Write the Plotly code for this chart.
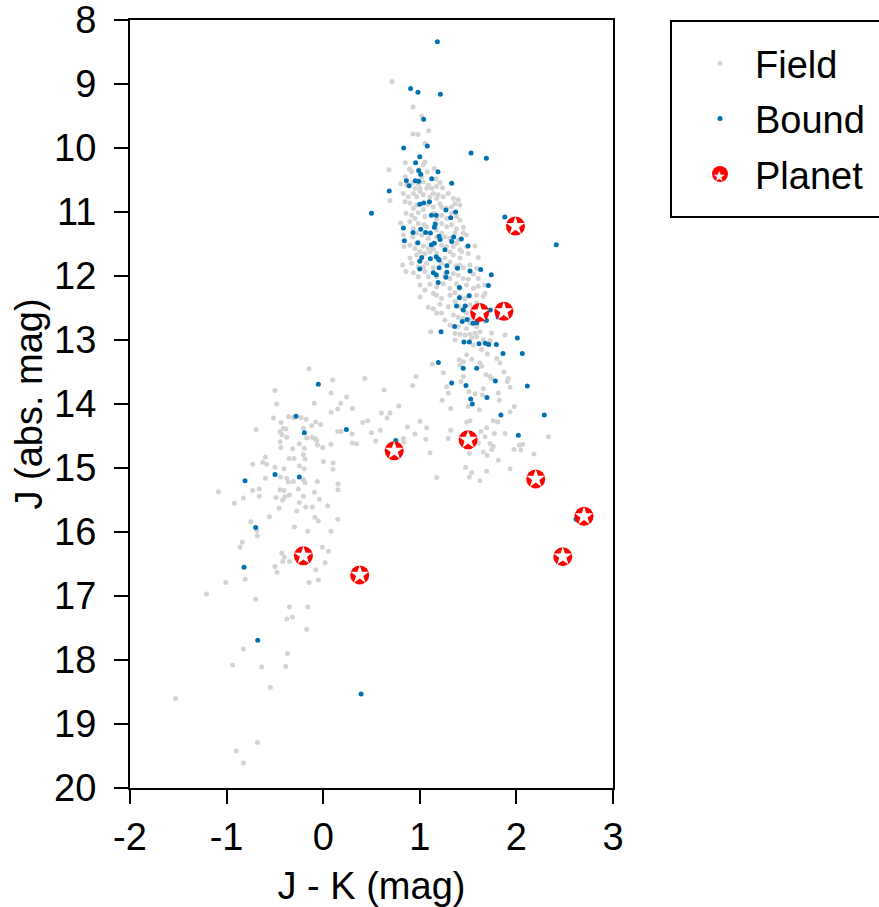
import plotly.graph_objects as go

# ---------------- data ----------------
FIELD_JK = [
    0.712, 0.93, 1.019, 0.93, 0.981, 1.092, 1.054, 0.85, 0.681, 0.892, 0.916, 1.054, 1.037, 1.15, 1.078, 1.019, 0.85, 1.168, 0.802,
    0.926, 1.036, 1.122, 1.174, 1.236, 0.95, 1.002, 1.071,
    0.691, 0.829, 0.933, 0.967, 1.036, 1.105, 1.191, 1.174, 1.347, 1.398,
    0.846, 0.967, 0.933, 1.14, 1.209, 1.226, 1.278, 1.364,
    0.857, 0.915, 0.984, 1.053, 1.226, 1.278, 1.381, 1.416,
    0.801, 0.898, 0.984, 1.043, 1.071, 1.226, 1.278, 1.329, 1.45,
    0.829, 0.926, 1.019, 1.226, 1.26, 1.364, 1.398, 1.484,
    0.836, 0.898, 0.95, 1.036, 1.088, 1.226, 1.347, 1.381, 1.416, 1.571,
    0.898, 0.967, 1.053, 1.105, 1.174, 1.312, 1.347, 1.416, 1.433, 1.605,
    0.822, 0.915, 0.933, 1.036, 1.071, 1.226, 1.312, 1.374, 1.45, 1.519,
    0.857, 1.053, 1.088, 1.26, 1.312, 1.347, 1.45, 1.554, 1.605,
    1.053, 1.105, 1.174, 1.243, 1.312, 1.381, 1.484, 1.605, 1.674,
    1.002, 1.14, 1.226, 1.312, 1.364, 1.416, 1.519, 1.657, 1.674,
    1.088, 1.209, 1.295, 1.364, 1.433, 1.519, 1.588, 1.657,
    1.174, 1.26, 1.347, 1.398, 1.484, 1.536, 1.623, 1.674,
    1.312, 1.398, 1.484, 1.519, 1.588, 1.674,
    0.864, 0.984, 1.088, 1.209, 0.881, 1.002, 1.14, 1.243, 1.295, 0.898, 1.036, 1.088, 1.329, 1.416,
    0.95, 1.14, 1.329, 1.174, 0.933, 1.157, 1.381, 1.174, 0.967, 1.088, 1.312, 1.45, 1.174,
    0.967, 1.14, 1.278, 1.484, 1.002, 1.26, 1.502, 0.984, 1.14, 1.416, 1.588, 0.984, 1.174, 1.398, 1.502,
    1.002, 1.416, 1.554, 1.174, 1.467, 1.588, 1.14, 1.398, 1.571, 1.226, 1.45, 1.588,
    1.112, 1.364, 1.416, 1.468, 1.52, 1.571, 1.623, 1.744, 1.364, 1.537, 1.589, 1.657, 1.727, 1.882,
    1.554, 1.64, 1.699, 1.796, 1.83, 1.485, 1.409, 1.451, 1.416, 1.537, 1.623, 1.64, 1.13, 1.244,
    0.961, 0.926, 1.451, 1.426, 1.685, 1.727, 1.744, 1.871, 1.916, 1.906, 1.934, 1.278, 1.295,
    1.509, 1.571, 1.657, 1.65, 1.813, 1.823, 1.23, 1.32, 1.616, 1.502, 1.761, 1.806, 1.934, 1.978,
    1.002, 1.071, 0.871, 0.83, 0.836, 0.95, 1.061, 1.32, 1.295, 1.485, 1.52, 1.633, 1.692, 1.771,
    1.882, 1.675, 1.606, 1.727, 1.761, 1.744, 1.699, 1.658, 1.52, 1.513, 1.813, 1.934, 1.975, 2.03,
    2.065, 2.182, 2.331, 1.106, 1.475, 1.537, 1.513, 1.692, 1.175, 1.623, 2.045,
    -0.147, 0.098, 0.43, -0.499, 0.081, -0.481, -0.093, 0.243, 0.181, 0.15, 0.302, 0.081, 0.63,
    0.602, 0.692, 0.661, 0.409, 0.461, 0.782, -0.516, -0.36, -0.309, -0.229, -0.177, -0.437, -0.412,
    -0.447, -0.695, -0.385, -0.205, -0.119, -0.077, -0.026, -0.429, -0.377, -0.171, -0.119, -0.085,
    -0.067, 0.15, 0.185, 0.299, 0.302, 0.346, 0.5, 0.545, 0.592, 0.081, -0.058, -0.005, -0.447,
    -0.44, -0.316, -0.247, -0.195, -0.353, -0.302, -0.205, -0.188, -0.599, -0.73, -0.626, -0.585,
    -0.499, -0.405, -0.247, -0.198, 0.002, 0.102, 0.102, -0.599, -0.44, -0.377, -0.36, -0.309,
    -0.205, -0.188, -0.061, 0.153, 0.153, -1.085, -0.92, -0.826, -0.73, -0.661, -0.661, -0.488,
    -0.447, -0.405, -0.35, -0.395, -0.42, -0.257, -0.205, -0.247, -0.091, -0.04, 0.047, -0.457,
    -0.274, -0.181, -0.112, -0.085, 0.15, -0.557,
    -0.75, -0.05, -0.681, -0.688, -0.837, -0.861, -0.298, -0.16, 0.081, -0.008, 0.054, -0.43,
    -0.402, -0.419, -0.35, -0.499, -0.478, -0.198, -0.078, 0.019, -0.146, -0.05, -1.009, -0.809,
    -1.209, -0.699, -0.35, -0.16, -0.378, -0.319, -0.171, -0.826, -0.371, -0.937, -0.637, -0.388,
    -0.547, -1.53, -0.681, -0.899, -0.826,
]
FIELD_J = [
    8.96, 9.36, 9.50, 9.78, 9.79, 9.73, 9.93, 10.23, 10.34, 10.33, 10.37, 10.22, 10.26, 10.32, 10.37, 10.45, 10.45, 10.48, 10.56,
    10.54, 10.53, 10.63, 10.60, 10.62, 10.63, 10.63, 10.63,
    10.82, 10.71, 10.71, 10.76, 10.73, 10.76, 10.73, 10.79, 10.79, 10.81,
    10.84, 10.89, 10.94, 10.92, 10.87, 10.92, 10.94, 10.87,
    11.02, 11.05, 11.01, 11.07, 11.05, 11.10, 11.07, 11.13,
    11.17, 11.15, 11.18, 11.20, 11.23, 11.18, 11.23, 11.20, 11.24,
    11.36, 11.39, 11.36, 11.33, 11.39, 11.33, 11.44, 11.36,
    11.54, 11.52, 11.57, 11.53, 11.57, 11.52, 11.54, 11.49, 11.59, 11.53,
    11.72, 11.67, 11.65, 11.62, 11.64, 11.62, 11.67, 11.72, 11.62, 11.71,
    11.83, 11.80, 11.95, 11.86, 11.80, 11.80, 11.78, 11.84, 11.87, 11.83,
    11.93, 11.93, 12.01, 11.99, 12.04, 11.96, 12.04, 11.97, 12.04,
    12.22, 12.13, 12.17, 12.12, 12.19, 12.12, 12.14, 12.16, 12.14,
    12.33, 12.27, 12.35, 12.30, 12.26, 12.32, 12.30, 12.32, 12.27,
    12.49, 12.44, 12.48, 12.40, 12.51, 12.45, 12.42, 12.48,
    12.58, 12.69, 12.61, 12.65, 12.58, 12.66, 12.61, 12.56,
    12.77, 12.79, 12.82, 12.74, 12.79, 12.71,
    10.58, 10.56, 10.58, 10.54, 10.76, 10.68, 10.71, 10.76, 10.71, 10.86, 10.96, 10.88, 10.92, 10.89,
    11.10, 11.02, 11.02, 11.11, 11.26, 11.17, 11.26, 11.28, 11.33, 11.41, 11.41, 11.33, 11.39,
    11.49, 11.58, 11.54, 11.54, 11.62, 11.72, 11.65, 11.86, 11.87, 11.83, 11.88, 12.01, 12.01, 11.99, 12.05,
    12.14, 12.19, 12.19, 12.30, 12.35, 12.30, 12.51, 12.47, 12.52, 12.58, 12.66, 12.69,
    12.87, 12.90, 12.91, 12.92, 12.91, 12.89, 12.87, 12.89, 13.00, 12.97, 12.95, 13.00, 13.01, 12.92,
    13.08, 13.15, 13.22, 13.29, 13.36, 13.23, 13.31, 13.34, 13.39, 13.30, 13.36, 13.41, 13.38, 13.51,
    13.57, 13.71, 13.57, 13.65, 13.54, 13.57, 13.60, 13.50, 13.60, 13.65, 13.74, 13.73, 13.83,
    13.81, 13.84, 13.76, 13.86, 13.83, 13.94, 13.94, 14.07, 14.09, 14.04, 14.26, 14.28, 14.12, 14.04,
    14.27, 14.37, 14.36, 14.54, 14.59, 14.47, 14.55, 14.41, 14.54, 14.28, 14.26, 14.43, 14.37, 14.46,
    14.46, 14.51, 14.61, 14.62, 14.66, 14.71, 14.80, 14.75, 14.64, 14.77, 14.88, 15.01, 14.71, 14.64,
    14.63, 14.78, 14.51, 14.76, 14.99, 15.07, 15.14, 15.05, 15.15, 15.20, 14.72,
    13.45, 13.625, 13.60, 13.79, 13.83, 14.00, 13.99, 13.89, 13.99, 14.08, 14.07, 14.13, 13.78,
    14.14, 14.14, 14.22, 14.29, 14.26, 14.03, 14.22, 14.20, 14.21, 14.21, 14.24, 14.29, 14.38,
    14.43, 14.40, 14.39, 14.38, 14.34, 14.28, 14.32, 14.48, 14.52, 14.53, 14.52, 14.54,
    14.57, 14.43, 14.43, 14.47, 14.61, 14.62, 14.45, 14.58, 14.41, 14.63, 14.64, 14.68, 14.59,
    14.68, 14.70, 14.62, 14.69, 14.85, 14.85, 14.79, 14.86, 14.83, 14.94, 14.91, 14.94,
    14.99, 15.01, 14.97, 15.01, 14.90, 14.92, 15.02, 15.16, 15.14, 15.16, 15.22, 15.21,
    15.18, 15.23, 15.21, 15.25, 15.34, 15.37, 15.55, 15.47, 15.35, 15.33, 15.44, 15.46,
    15.34, 15.35, 15.42, 15.45, 15.50, 15.33, 15.44, 15.54, 15.38, 15.49, 15.59, 15.63,
    15.67, 15.61, 15.61, 15.77, 15.80, 15.76,
    15.84, 15.83, 16.06, 15.98, 16.16, 16.24, 15.92, 15.99, 15.99, 16.24, 16.30, 16.33,
    16.39, 16.46, 16.46, 16.54, 16.63, 16.37, 16.59, 16.48, 16.79, 16.75, 16.79, 16.74,
    16.97, 17.05, 17.17, 17.17, 17.36, 17.33, 17.52, 17.83, 17.90, 18.08, 18.11, 18.10,
    18.43, 18.60, 19.29, 19.42, 19.61,
]

BOUND_JK = [
    1.182, 0.905, 0.981, 1.213, 1.04, 1.078, 0.833, 1.53, 1.689, 1.0, 0.957, 0.988, 1.009, 1.188, 1.123, 0.861, 0.954, 0.988, 1.33,
    0.89, 0.684, 0.50, 1.0, 1.04, 1.10, 1.27, 1.37, 1.12, 1.17, 1.32, 1.88, 1.16, 1.15, 0.83, 1.01,
    0.93, 1.06, 1.11, 1.20, 1.21, 1.35, 1.43, 0.84, 0.98, 1.33, 1.12, 1.15, 1.50, 1.26, 1.02, 1.0,
    1.11, 1.17, 1.19, 1.20, 1.28, 1.0, 1.20, 1.39, 1.52, 1.63, 1.28, 1.14, 1.17, 1.27, 1.74, 1.19,
    1.71, 1.41, 1.51, 1.41, 1.38, 1.47, 1.45, 1.73, 1.81, 1.69, 1.62, 1.49, 1.44, 1.36, 1.55, 1.59,
    1.22, 2.01, 2.413,
    1.457, 1.513, 1.613, 1.678, 1.713, 1.792, 1.861, 2.061, 1.192, 1.45, 1.589, 1.33, 1.478, 1.782,
    2.113, 1.527, 1.544, 1.696, 1.84, 2.289, 2.02,
    -0.05, -0.281, -0.195, 0.24, 0.751, -0.809, -0.499, -0.247,
    -0.699, -0.819, -0.678, 0.392, 2.617,
]
BOUND_J = [
    8.34, 9.07, 9.13, 9.16, 9.55, 9.97, 10.0, 10.08, 10.16, 10.135, 10.23, 10.35, 10.41, 10.37, 10.48, 10.51, 10.51, 10.52, 10.55,
    10.59, 10.67, 11.02, 10.88, 10.86, 10.84, 10.97, 11.0, 11.05, 11.05, 11.09, 11.08, 11.19, 11.24, 11.25, 11.27,
    11.32, 11.32, 11.33, 11.38, 11.43, 11.39, 11.42, 11.45, 11.48, 11.46, 11.51, 11.49, 11.53, 11.59, 11.71, 11.77,
    11.73, 11.70, 11.73, 11.75, 11.84, 11.89, 11.87, 11.88, 11.92, 11.90, 11.94, 11.95, 11.98, 12.02, 11.98, 12.10,
    12.15, 12.18, 12.31, 12.34, 12.47, 12.47, 12.53, 12.53, 12.64, 12.69, 12.65, 12.68, 12.71, 12.79, 12.74, 12.73,
    12.87, 12.97, 11.51,
    13.03, 13.03, 13.06, 13.05, 13.07, 13.07, 13.21, 13.21, 13.35, 13.44, 13.44, 13.67, 13.71, 13.64,
    13.72, 13.92, 14.0, 13.90, 14.17, 14.17, 14.49,
    13.69, 14.19, 14.45, 14.40, 14.57, 15.20, 15.10, 15.14,
    15.93, 16.55, 17.69, 18.53, 15.80,
]

PLANET_JK = [1.99, 1.62, 1.87, 1.50, 0.735, 2.20, 2.70, 2.48, -0.205, 0.378]
PLANET_J = [11.22, 12.57, 12.55, 14.56, 14.73, 15.17, 15.755, 16.385, 16.37, 16.67]

X_TICKS = [-2, -1, 0, 1, 2, 3]
Y_TICKS = [8, 9, 10, 11, 12, 13, 14, 15, 16, 17, 18, 19, 20]

FONT = "Liberation Sans, Arial, Helvetica, sans-serif"
FS = 38

fig = go.Figure()
fig.add_trace(go.Scatter(
    x=FIELD_JK, y=FIELD_J, mode="markers", name="Field", legendgroup="a",
    marker=dict(color="#d3d3d3", size=5, line=dict(width=0)),
))
fig.add_trace(go.Scatter(
    x=BOUND_JK, y=BOUND_J, mode="markers", name="Bound", legendgroup="b",
    marker=dict(color="#0072b2", size=5, line=dict(width=0)),
))
fig.add_trace(go.Scatter(
    x=PLANET_JK, y=PLANET_J, mode="markers", name="Planet", legendgroup="c",
    marker=dict(color="#ff0000", size=19, symbol="circle", line=dict(width=0)),
))
fig.add_trace(go.Scatter(
    x=PLANET_JK, y=PLANET_J, mode="markers", name="Planet star", legendgroup="c",
    showlegend=False, hoverinfo="skip",
    marker=dict(color="#ffffff", size=14, symbol="star", line=dict(width=0)),
))

axis_common = dict(
    showline=True, linecolor="black", linewidth=2, mirror=True,
    ticks="outside", ticklen=14, tickwidth=2, tickcolor="black",
    showgrid=False, zeroline=False, ticklabeloverflow="allow",
    tickfont=dict(family=FONT, size=FS, color="black"),
)

fig.update_xaxes(
    range=[-2, 3], tickvals=X_TICKS, ticktext=[str(v) for v in X_TICKS],
    title=dict(text="J - K (mag)", font=dict(family=FONT, size=FS, color="black"), standoff=16),
    ticklabelstandoff=0,
    **axis_common,
)
fig.update_yaxes(
    range=[20, 8], tickvals=Y_TICKS, ticktext=[str(v) for v in Y_TICKS],
    title=dict(text="J (abs. mag)", font=dict(family=FONT, size=FS, color="black"), standoff=0),
    ticklabelstandoff=10,
    **axis_common,
)

# legend frame (extends past the right edge of the page, as in the reference)
fig.add_shape(
    type="rect", xref="paper", yref="paper",
    x0=(671 - 130) / 483, x1=(900 - 130) / 483,
    y0=1 - (217 - 20) / 768, y1=1 - (21 - 20) / 768,
    line=dict(color="black", width=2), fillcolor="rgba(0,0,0,0)", layer="above",
)

# white star inside the legend's planet symbol
fig.add_annotation(
    xref="paper", yref="paper", x=(719 - 130) / 483, y=1 - (176 - 20) / 768,
    xanchor="center", yanchor="middle", showarrow=False,
    text="\u2605", font=dict(family="DejaVu Sans", size=14, color="white"),
)

fig.update_layout(
    width=879, height=907,
    margin=dict(l=130, r=266, t=20, b=119, autoexpand=False),
    plot_bgcolor="white", paper_bgcolor="white",
    font=dict(family=FONT, size=FS, color="black"),
    showlegend=True,
    legend=dict(
        x=(685 - 130) / 483, y=1 - (32 - 20) / 768, xanchor="left", yanchor="top",
        borderwidth=0, bgcolor="rgba(0,0,0,0)",
        font=dict(family=FONT, size=FS, color="black"),
        tracegroupgap=3, itemsizing="trace", itemwidth=60,
    ),
)

fig.write_html("out.html")
